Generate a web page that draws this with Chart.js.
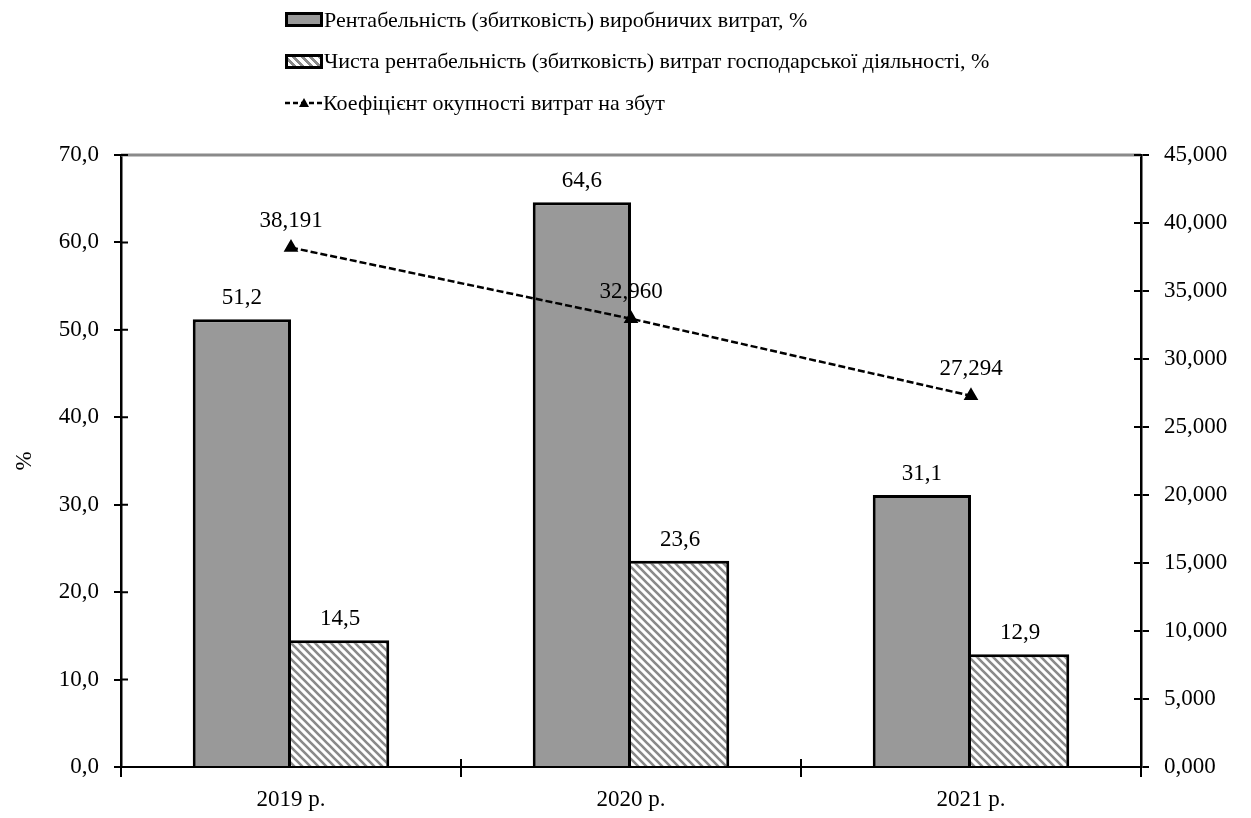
<!DOCTYPE html>
<html>
<head>
<meta charset="utf-8">
<script src="https://cdn.jsdelivr.net/npm/chart.js@4.4.0/dist/chart.umd.min.js"></script>
<style>
  body { margin: 0; background: #fff; }
  #wrap { position: relative; width: 1251px; height: 818px; }
  #legend { position: absolute; left: 285px; top: -1px; font-family: "Liberation Serif", "Times New Roman", serif; font-size: 22px; color: #000; }
  .item { display: flex; align-items: center; height: 41.5px; }
  .box { width: 32px; height: 9px; border: 3px solid #000; margin-right: 1px; }
  .line { width: 38px; height: 12px; margin-right: 0; }
</style>
</head>
<body>
<div id="wrap">
  <canvas id="chart" width="1251" height="818"></canvas>
  <div id="legend"></div>
</div>
<script>
// Дані
var years = ['2019 р.', '2020 р.', '2021 р.'];
var rentVyrob = [51.2, 64.6, 31.1];
var chystaRent = [14.5, 23.6, 12.9];
var koefOkup = [38.191, 32.960, 27.294];
var seriesNames = [
    'Рентабельність (збитковість) виробничих витрат, %',
    'Чиста рентабельність (збитковість) витрат господарської діяльності, %',
    'Коефіцієнт окупності витрат на збут'
];

var fontFamily = '"Liberation Serif", "Times New Roman", serif';

// штрихування для другої серії
function makeHatch() {
    var c = document.createElement('canvas');
    c.width = 8; c.height = 8;
    var g = c.getContext('2d');
    g.fillStyle = '#fff';
    g.fillRect(0, 0, 8, 8);
    g.strokeStyle = '#8a8a8a';
    g.lineWidth = 2.6;
    g.beginPath();
    g.moveTo(-4, -4); g.lineTo(12, 12);
    g.moveTo(-4, 4); g.lineTo(4, 12);
    g.moveTo(4, -4); g.lineTo(12, 4);
    g.stroke();
    return g.createPattern(c, 'repeat');
}
var hatch = makeHatch();

function fmt(v, d) {
    return v.toFixed(d).replace('.', ',');
}

// підписи значень
var valueLabels = {
    id: 'valueLabels',
    afterDatasetsDraw: function (chart) {
        var ctx = chart.ctx;
        ctx.save();
        ctx.font = '23px ' + fontFamily;
        ctx.fillStyle = '#000';
        ctx.textAlign = 'center';
        ctx.textBaseline = 'middle';
        chart.data.datasets.forEach(function (ds, i) {
            var meta = chart.getDatasetMeta(i);
            meta.data.forEach(function (el, j) {
                var dec = ds.type === 'line' ? 3 : 1;
                var off = ds.type === 'line' ? 27 : 21;
                ctx.fillText(fmt(ds.data[j], dec), el.x, el.y - off);
            });
        });
        ctx.restore();
    }
};

// рамка зверху та внутрішні засічки осей
var frame = {
    id: 'frame',
    afterDraw: function (chart) {
        var ctx = chart.ctx, a = chart.chartArea;
        ctx.save();
        ctx.strokeStyle = '#8a8a8a';
        ctx.lineWidth = 3;
        ctx.beginPath();
        ctx.moveTo(a.left, a.top);
        ctx.lineTo(a.right, a.top);
        ctx.stroke();
        ctx.strokeStyle = '#000';
        ctx.lineWidth = 2;
        ctx.beginPath();
        chart.scales.y.ticks.forEach(function (t) {
            var y = chart.scales.y.getPixelForValue(t.value);
            ctx.moveTo(a.left, y); ctx.lineTo(a.left + 7, y);
        });
        chart.scales.y1.ticks.forEach(function (t) {
            var y = chart.scales.y1.getPixelForValue(t.value);
            ctx.moveTo(a.right, y); ctx.lineTo(a.right - 7, y);
        });
        var xs = chart.scales.x;
        for (var k = 1; k < years.length; k++) {
            var x = (xs.getPixelForValue(k - 1) + xs.getPixelForValue(k)) / 2;
            ctx.moveTo(x, a.bottom); ctx.lineTo(x, a.bottom - 8);
        }
        ctx.stroke();
        ctx.restore();
    }
};

var ctx = document.getElementById('chart').getContext('2d');
var chart = new Chart(ctx, {
    type: 'bar',
    data: {
        labels: years,
        datasets: [{
            label: seriesNames[0],
            data: rentVyrob,
            backgroundColor: '#999999',
            borderColor: '#000',
            borderWidth: { top: 3, left: 3, right: 3, bottom: 0 },
            yAxisID: 'y',
            order: 2
        },
        {
            label: seriesNames[1],
            data: chystaRent,
            backgroundColor: hatch,
            borderColor: '#000',
            borderWidth: { top: 3, left: 0, right: 3, bottom: 0 },
            yAxisID: 'y',
            order: 2
        },
        {
            type: 'line',
            label: seriesNames[2],
            data: koefOkup,
            borderColor: '#000',
            borderWidth: 2.5,
            borderDash: [7, 3],
            pointStyle: 'triangle',
            pointRadius: 6,
            pointBackgroundColor: '#000',
            pointBorderColor: '#000',
            fill: false,
            yAxisID: 'y1',
            order: 1
        }]
    },
    options: {
        responsive: false,
        animation: false,
        layout: { padding: { top: 155, left: 0, right: 0, bottom: 0 } },
        datasets: {
            bar: { categoryPercentage: 0.578, barPercentage: 1.0 }
        },
        plugins: {
            legend: { display: false },
            tooltip: { enabled: false }
        },
        scales: {
            x: {
                offset: true,
                afterFit: function (s) { s.height = 51; },
                grid: {
                    display: true,
                    drawOnChartArea: false,
                    offset: true,
                    color: '#000',
                    lineWidth: 2,
                    tickLength: 10
                },
                border: { color: '#000', width: 2 },
                ticks: {
                    color: '#000',
                    font: { family: fontFamily, size: 23 },
                    padding: 9
                }
            },
            y: {
                position: 'left',
                min: 0,
                max: 70,
                afterFit: function (s) { s.width = 121; },
                ticks: {
                    stepSize: 10,
                    color: '#000',
                    font: { family: fontFamily, size: 23 },
                    padding: 15,
                    callback: function (v) { return fmt(v, 1); }
                },
                grid: { drawOnChartArea: false, color: '#000', lineWidth: 2, tickLength: 7 },
                border: { color: '#000', width: 2.5 },
                title: {
                    display: true,
                    text: '%',
                    color: '#000',
                    font: { family: fontFamily, size: 23 },
                    padding: { top: 11, bottom: 0 }
                }
            },
            y1: {
                position: 'right',
                min: 0,
                max: 45,
                afterFit: function (s) { s.width = 110; },
                ticks: {
                    stepSize: 5,
                    color: '#000',
                    font: { family: fontFamily, size: 23 },
                    padding: 15,
                    callback: function (v) { return fmt(v, 3); }
                },
                grid: { drawOnChartArea: false, color: '#000', lineWidth: 2, tickLength: 8 },
                border: { color: '#000', width: 2.5 }
            }
        }
    },
    plugins: [valueLabels, frame]
});

// легенда
var legend = document.getElementById('legend');
chart.data.datasets.forEach(function (ds, i) {
    var item = document.createElement('div');
    item.className = 'item';
    var sw;
    if (ds.type === 'line') {
        sw = document.createElement('canvas');
        sw.width = 38; sw.height = 12;
        sw.className = 'line';
        var g = sw.getContext('2d');
        g.strokeStyle = '#000'; g.lineWidth = 2.5; g.setLineDash([5, 3]);
        g.beginPath(); g.moveTo(0, 6); g.lineTo(38, 6); g.stroke();
        g.fillStyle = '#000';
        g.beginPath(); g.moveTo(19, 1); g.lineTo(24, 10); g.lineTo(14, 10); g.closePath(); g.fill();
    } else {
        sw = document.createElement('div');
        sw.className = 'box';
        if (i === 0) {
            sw.style.background = '#999999';
        } else {
            sw.style.background = 'repeating-linear-gradient(45deg, #fff 0 3px, #8a8a8a 3px 6px)';
        }
    }
    var t = document.createElement('span');
    t.textContent = ds.label;
    item.appendChild(sw);
    item.appendChild(t);
    legend.appendChild(item);
});
</script>
</body>
</html>
